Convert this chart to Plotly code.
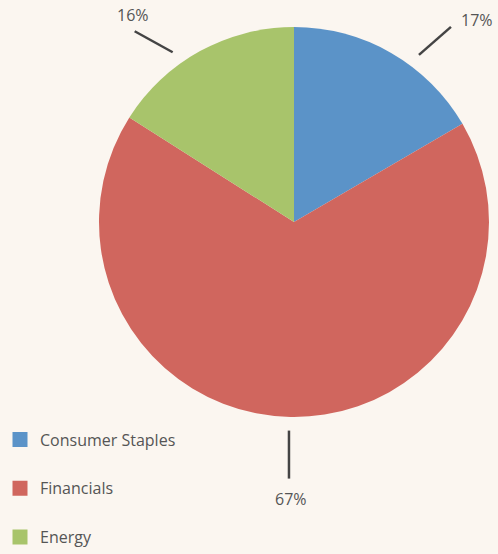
import math
import plotly.graph_objects as go

# ---- data ----
categories = ["Consumer Staples", "Financials", "Energy"]
shares = [16.6, 67.4, 16.0]
label_texts = ["17%", "67%", "16%"]

# ---- style ----
colors = ["#5b93c8", "#d0665e", "#a8c46b"]
BG = "#fbf6f0"
TEXT = "#555555"
FONT = "Open Sans"
W, H = 498, 554
CX, CY, R = 294, 222, 195          # pie centre / radius in pixels
LINE_R = 1.07                      # leader start radius (fraction of R)
SPREAD = 8.0                       # angular spread of leader starts (deg)
line_vec = [(32, -28), (0, 48), (-38, -21)]   # leader line vectors (px)
text_off = [(26, -7), (2, 20), (-2, -16)]     # label offset from line end (px)

fig = go.Figure()

fig.add_trace(go.Pie(
    labels=categories,
    values=shares,
    sort=False,
    direction="clockwise",
    rotation=0,
    marker=dict(colors=colors, line=dict(width=0)),
    textinfo="none",
    hoverinfo="label+percent",
    showlegend=False,
    domain=dict(x=[(CX - R) / W, (CX + R) / W],
                y=[(H - CY - R) / H, (H - CY + R) / H]),
))

# legend entries (one per category, grouped for spacing)
for cat, col in zip(categories, colors):
    fig.add_trace(go.Scatter(
        x=[None], y=[None], mode="markers", name=cat,
        legendgroup=cat,
        marker=dict(symbol="square", size=15, color=col),
    ))

def px(x):
    return x / W

def py(y):
    return 1 - y / H

total = sum(shares)
cum = 0.0
shapes = []
annotations = []
for i, v in enumerate(shares):
    mid = (cum + v / 2) / total * 360.0
    cum += v
    a = mid + SPREAD * math.sin(math.radians(2 * mid))
    sx = CX + LINE_R * R * math.sin(math.radians(a))
    sy = CY - LINE_R * R * math.cos(math.radians(a))
    ex, ey = sx + line_vec[i][0], sy + line_vec[i][1]
    shapes.append(dict(type="line", xref="paper", yref="paper",
                       x0=px(sx), y0=py(sy), x1=px(ex), y1=py(ey),
                       line=dict(color="#444444", width=2.5)))
    tx, ty = ex + text_off[i][0], ey + text_off[i][1]
    annotations.append(dict(xref="paper", yref="paper", x=px(tx), y=py(ty),
                            text=label_texts[i], showarrow=False,
                            xanchor="center", yanchor="middle",
                            font=dict(family=FONT, size=16, color=TEXT)))

fig.update_layout(
    width=W, height=H,
    margin=dict(l=0, r=0, t=0, b=0, autoexpand=False),
    paper_bgcolor=BG, plot_bgcolor=BG,
    xaxis=dict(visible=False), yaxis=dict(visible=False),
    shapes=shapes,
    annotations=annotations,
    showlegend=True,
    legend=dict(x=0.0, y=py(422.5), xanchor="left", yanchor="top",
                orientation="v", traceorder="grouped", tracegroupgap=25,
                bgcolor="rgba(0,0,0,0)",
                font=dict(family=FONT, size=16, color=TEXT)),
    font=dict(family=FONT, color=TEXT),
)

fig.write_html(
    "out.html",
    config={"displayModeBar": False},
    post_script="document.body.style.margin='0';document.body.style.overflow='hidden';",
)
